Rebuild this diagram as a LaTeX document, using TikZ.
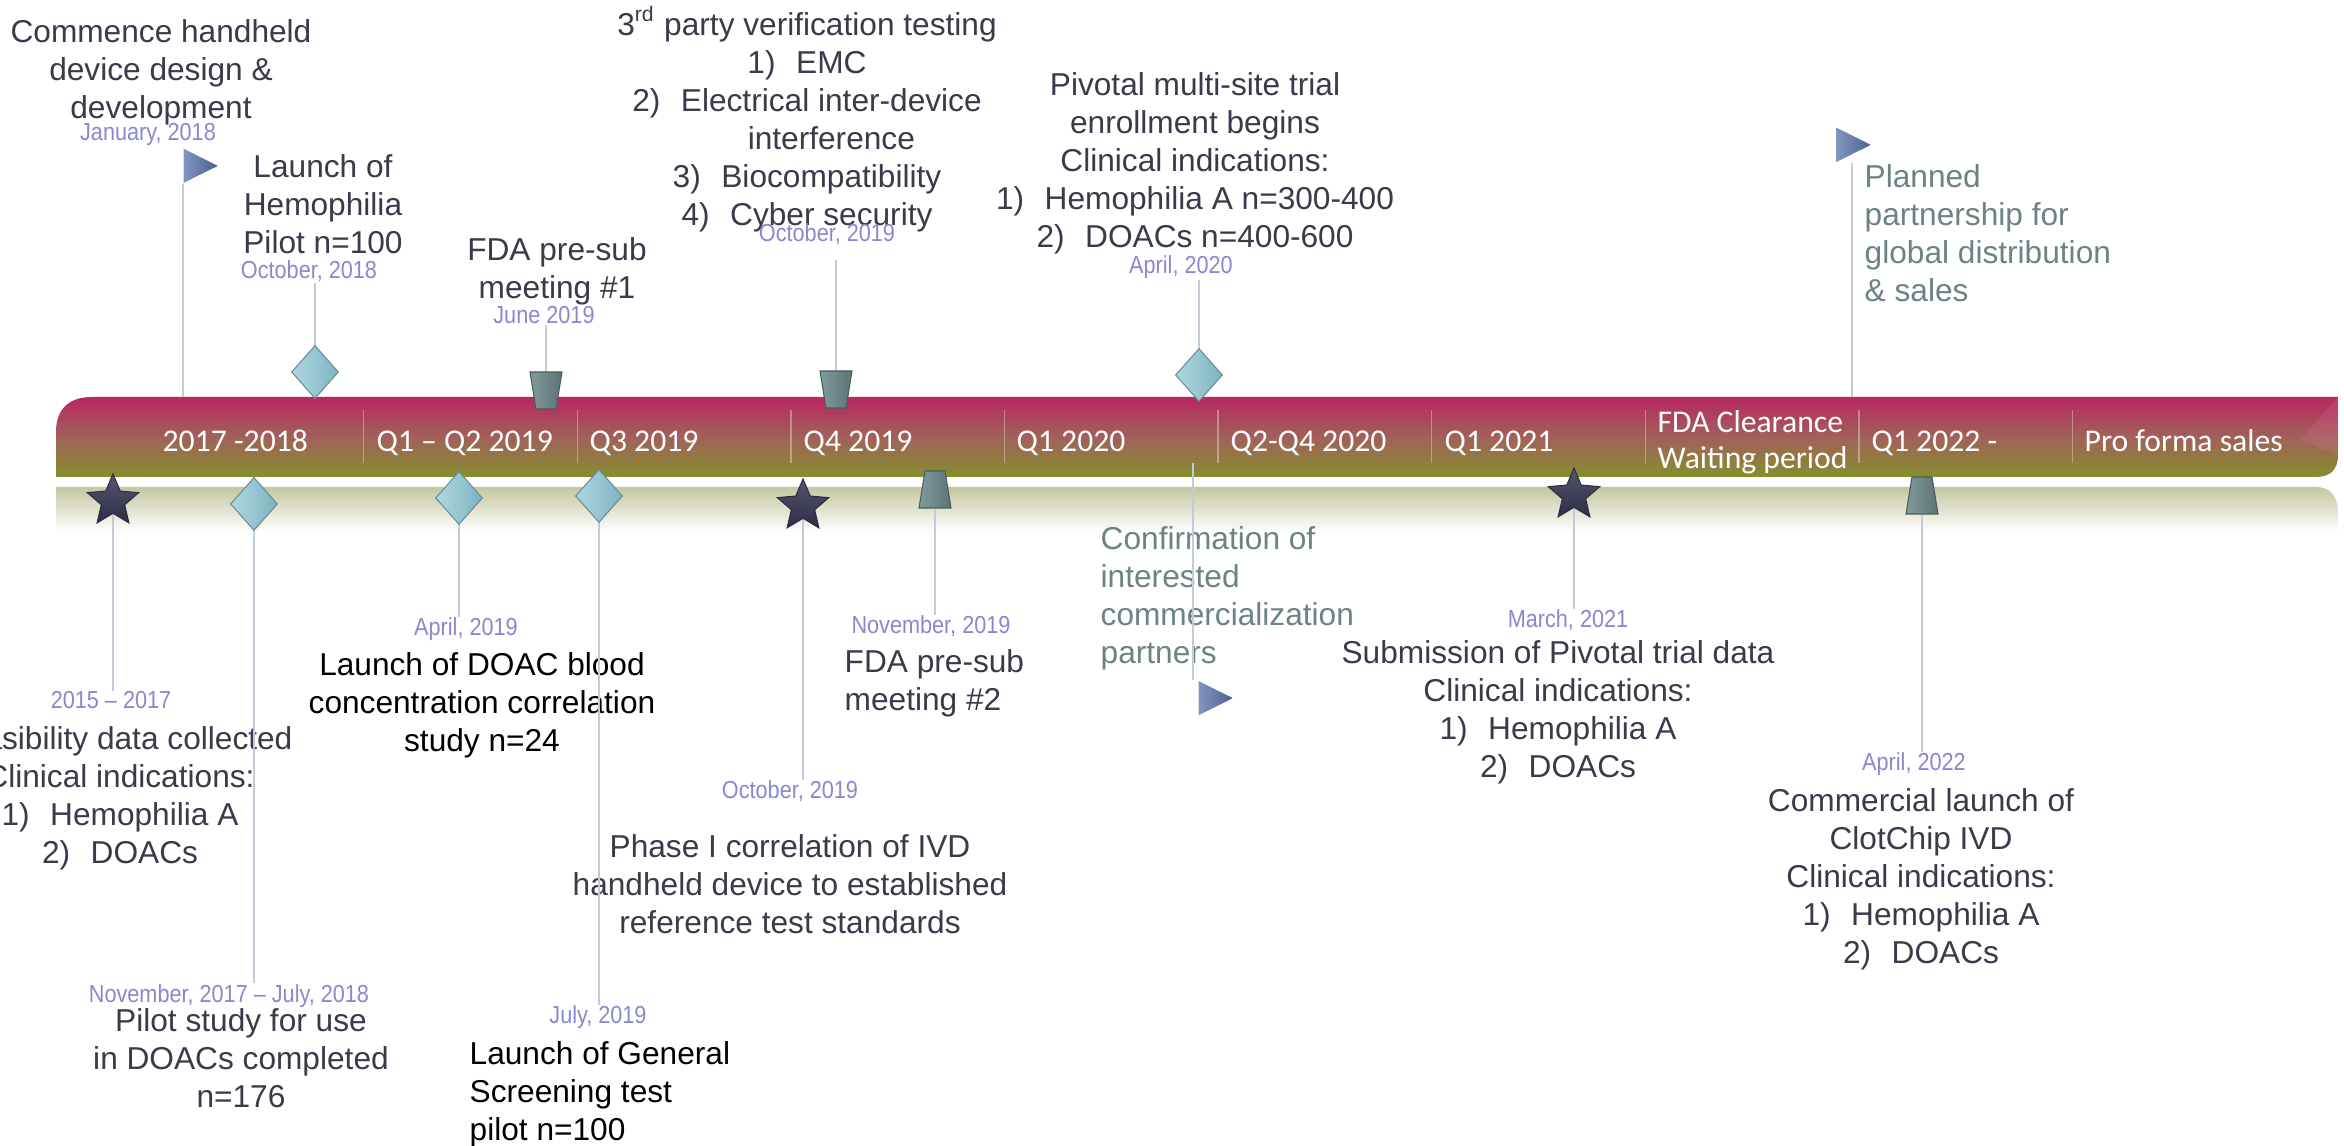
\documentclass[tikz,border=0pt]{standalone}
\usepackage{fontspec}
\setmainfont{Liberation Sans}
\newfontfamily\narrowfont[FakeStretch=0.88]{Liberation Sans}
\newfontfamily\barfont{Carlito}
\usetikzlibrary{shapes.geometric}
\definecolor{ink}{HTML}{3A3A4C}
\definecolor{datecol}{HTML}{8A87CF}
\definecolor{mutedcol}{HTML}{6C8383}
\definecolor{barTop}{HTML}{B8275F}
\definecolor{barMid}{HTML}{A1615A}
\definecolor{barBot}{HTML}{858F2D}
\definecolor{shadowTop}{HTML}{C5C6A0}
\definecolor{poleCol}{HTML}{C3CBD8}
\definecolor{diaL}{HTML}{AFD8E1}
\definecolor{diaR}{HTML}{7DB3C0}
\definecolor{trapL}{HTML}{82999B}
\definecolor{trapR}{HTML}{5D7476}
\definecolor{starTop}{HTML}{56556F}
\definecolor{starBot}{HTML}{2E2D45}
\definecolor{flagL}{HTML}{8095C0}
\definecolor{flagR}{HTML}{4C6190}

\begin{document}
\begin{tikzpicture}[x=0.01cm,y=-0.01cm,
    event/.style={font=\fontsize{9}{10.8}\selectfont,text=ink,align=center,inner sep=0,anchor=north},
    datelbl/.style={font=\narrowfont\fontsize{7}{8}\selectfont,text=datecol,inner sep=0,anchor=base},
    period/.style={font=\barfont\fontsize{9}{10.2}\selectfont,text=white,inner sep=0,anchor=base west,align=left},
    pole/.style={draw=poleCol,line width=0.6pt},
    diamark/.style={diamond,left color=diaL,right color=diaR,draw=diaR!80!black,line width=0.3pt,
        minimum width=0.47cm,minimum height=0.53cm,inner sep=0.2pt},
    trapmark/.style={left color=trapL,right color=trapR,draw=trapR!80!black,line width=0.3pt},
    starmark/.style={star,star points=5,star point ratio=2.2,top color=starTop,bottom color=starBot,
        draw=starBot,line width=0.3pt,minimum size=0.54cm,inner sep=0.2pt},
    flagmark/.style={isosceles triangle,isosceles triangle apex angle=53,left color=flagL,right color=flagR,
        minimum width=0.34cm,minimum height=0.34cm,inner sep=0.2pt}]

    % Page
    \fill[white] (0,0) rectangle (2344,1146);
    \useasboundingbox (0,0) rectangle (2344,1146);

    % Reflection under the bar
    \shade[top color=shadowTop,bottom color=white] (56,487) -- (2316,487)
        .. controls (2330,487) and (2338,496) .. (2338,512) -- (2338,532) -- (56,532) -- cycle;

    % Timeline bar
    \shade[top color=barTop,bottom color=barBot,middle color=barMid] (56,477) -- (56,432)
        .. controls (56,410) and (68,397) .. (92,397) -- (2338,397) -- (2338,455)
        .. controls (2338,470) and (2330,477) .. (2316,477) -- cycle;
    \fill[magenta!50!white,opacity=.15] (2338,397) -- (2338,455) -- (2300,440) -- cycle;
    \coordinate (bartop) at (0,397);

    % Period dividers
    \draw[white,opacity=.35] (363.6,410) -- ++(0,53) (577.2,410) -- ++(0,53) (790.8,410) -- ++(0,53)
        (1004.4,410) -- ++(0,53) (1218,410) -- ++(0,53) (1431.6,410) -- ++(0,53)
        (1645.2,410) -- ++(0,53) (1858.8,410) -- ++(0,53) (2072.4,410) -- ++(0,53);

    % Periods
    \node[period] (p1) at (162,452) {2017 -2018};
    \node[period] (p2) at (376,452) {Q1 – Q2 2019};
    \node[period] (p3) at (589,452) {Q3 2019};
    \node[period] (p4) at (803,452) {Q4 2019};
    \node[period] (p5) at (1016,452) {Q1 2020};
    \node[period] (p6) at (1230,452) {Q2-Q4 2020};
    \node[period] (p7) at (1444,452) {Q1 2021};
    \node[period,anchor=north west] (p8) at (1657,410) {FDA Clearance\\Waiting period};
    \node[period] (p9) at (1871,452) {Q1 2022 -};
    \node[period] (p10) at (2084,452) {Pro forma sales};

    % Milestones above the bar
    \node[event] (commence) at (161,19) {Commence handheld\\device design \&\\development};
    \node[datelbl] (jan18) at (148,141) {January, 2018};
    \node[event] (hemopilot) at (323,154) {Launch of\\Hemophilia\\Pilot n=100};
    \node[datelbl] (oct18) at (309,279) {October, 2018};
    \node[event] (presub1) at (557,237) {FDA pre-sub\\meeting \#1};
    \node[datelbl] (jun19) at (544,324) {June 2019};
    \node[event] (verif) at (807,6) {3\textsuperscript{rd} party verification testing\\
        1)\hspace{0.65em}EMC\\2)\hspace{0.65em}Electrical inter-device\\
        \phantom{2)\hspace{0.65em}}interference\\3)\hspace{0.65em}Biocompatibility\\
        4)\hspace{0.65em}Cyber security};
    \node[datelbl] (oct19a) at (827,242) {October, 2019};
    \node[event] (pivotal) at (1195,72) {Pivotal multi-site trial\\enrollment begins\\
        Clinical indications:\\1)\hspace{0.65em}Hemophilia A n=300-400\\2)\hspace{0.65em}DOACs n=400-600};
    \node[datelbl] (apr20) at (1181,274) {April, 2020};
    \node[event,text=mutedcol,align=left,anchor=north west] (planned) at (1864,164)
        {Planned\\partnership for\\global distribution\\\& sales};

    % Milestones below the bar
    \node[datelbl] (d1517) at (111,709) {2015 – 2017};
    \node[event] (feas) at (120,726) {Feasibility data collected\\Clinical indications:\\
        1)\hspace{0.65em}Hemophilia A\\2)\hspace{0.65em}DOACs};
    \node[datelbl] (nov17) at (229,1002) {November, 2017 – July, 2018};
    \node[event] (pilotdoac) at (241,1008) {Pilot study for use\\in DOACs completed\\n=176};
    \node[datelbl] (apr19) at (466,636) {April, 2019};
    \node[event,text=black] (doacblood) at (482,652) {Launch of DOAC blood\\concentration correlation\\study n=24};
    \node[datelbl] (jul19) at (598,1024) {July, 2019};
    \node[event,text=black,align=left,anchor=north west] (general) at (469,1041)
        {Launch of General\\Screening test\\pilot n=100};
    \node[datelbl] (oct19b) at (790,799) {October, 2019};
    \node[event] (phase1) at (790,834) {Phase I correlation of IVD\\handheld device to established\\
        reference test standards};
    \node[datelbl] (nov19) at (931,634) {November, 2019};
    \node[event,align=left,anchor=north west] (presub2) at (844,649) {FDA pre-sub\\meeting \#2};
    \node[event,text=mutedcol,align=left,anchor=north west] (confirm) at (1100,526)
        {Confirmation of\\interested\\commercialization\\partners};
    \node[datelbl] (mar21) at (1568,628) {March, 2021};
    \node[event] (submit) at (1558,640) {Submission of Pivotal trial data\\Clinical indications:\\
        1)\hspace{0.65em}Hemophilia A\\2)\hspace{0.65em}DOACs};
    \node[datelbl] (apr22) at (1914,771) {April, 2022};
    \node[event] (commercial) at (1921,788) {Commercial launch of\\ClotChip IVD\\Clinical indications:\\
        1)\hspace{0.65em}Hemophilia A\\2)\hspace{0.65em}DOACs};

    % Marker positions
    \coordinate (cjan) at (183,184);
    \coordinate (coct18) at (315,372);
    \coordinate (cjun19) at (546,390);
    \coordinate (coct19a) at (836,389);
    \coordinate (oct19top) at (836,260);
    \coordinate (capr20) at (1199,375);
    \coordinate (cplan) at (1852,163);
    \coordinate (cplanflag) at (1836,163);
    \coordinate (c1517) at (113,501);
    \coordinate (cnov17) at (254,504);
    \coordinate (capr19) at (459,498);
    \coordinate (cjul19) at (599,496);
    \coordinate (coct19b) at (803,506);
    \coordinate (cnov19) at (935,490);
    \coordinate (cconf) at (1193,463);
    \coordinate (cconfflag) at (1198,680);
    \coordinate (cmar21) at (1574,495);
    \coordinate (capr22) at (1922,496);

    % Poles
    \draw[pole] (cjan) -- (cjan |- bartop);
    \draw[pole] (coct18) -- (coct18 |- oct18.south);
    \draw[pole] (cjun19) -- (cjun19 |- jun19.south);
    \draw[pole] (coct19a) -- (oct19top);
    \draw[pole] (capr20) -- (capr20 |- apr20.south);
    \draw[pole] (cplan) -- (cplan |- bartop);
    \draw[pole] (c1517) -- (c1517 |- d1517.north);
    \draw[pole] (cnov17) -- (cnov17 |- nov17.north);
    \draw[pole] (capr19) -- (capr19 |- apr19.north);
    \draw[pole] (cjul19) -- (cjul19 |- jul19.north);
    \draw[pole] (coct19b) -- (coct19b |- oct19b.north);
    \draw[pole] (cnov19) -- (cnov19 |- nov19.north);
    \draw[pole] (cconf) -- (cconf |- cconfflag);
    \draw[pole] (cmar21) -- (cmar21 |- mar21.north);
    \draw[pole] (capr22) -- (capr22 |- apr22.north);

    % Markers
    \node[flagmark,anchor=right corner] (janflag) at (cjan) {};
    \node[diamark] (oct18dia) at (coct18) {};
    \shade[trapmark,shift={(cjun19)}] (-16,-18) -- (16,-18) -- (10,19) -- (-10,19) -- cycle;
    \shade[trapmark,shift={(coct19a)}] (-16,-18) -- (16,-18) -- (10,19) -- (-10,19) -- cycle;
    \node[diamark] (apr20dia) at (capr20) {};
    \node[flagmark,anchor=right corner] (planflag) at (cplanflag) {};
    \node[starmark] (star1517) at (c1517) {};
    \node[diamark] (nov17dia) at (cnov17) {};
    \node[diamark] (apr19dia) at (capr19) {};
    \node[diamark] (jul19dia) at (cjul19) {};
    \node[starmark] (oct19star) at (coct19b) {};
    \shade[trapmark,shift={(cnov19)}] (-10,-19) -- (10,-19) -- (16,18) -- (-16,18) -- cycle;
    \node[flagmark,anchor=left corner] (confflag) at (cconfflag) {};
    \node[starmark] (mar21star) at (cmar21) {};
    \shade[trapmark,shift={(capr22)}] (-10,-19) -- (10,-19) -- (16,18) -- (-16,18) -- cycle;
\end{tikzpicture}
\end{document}
